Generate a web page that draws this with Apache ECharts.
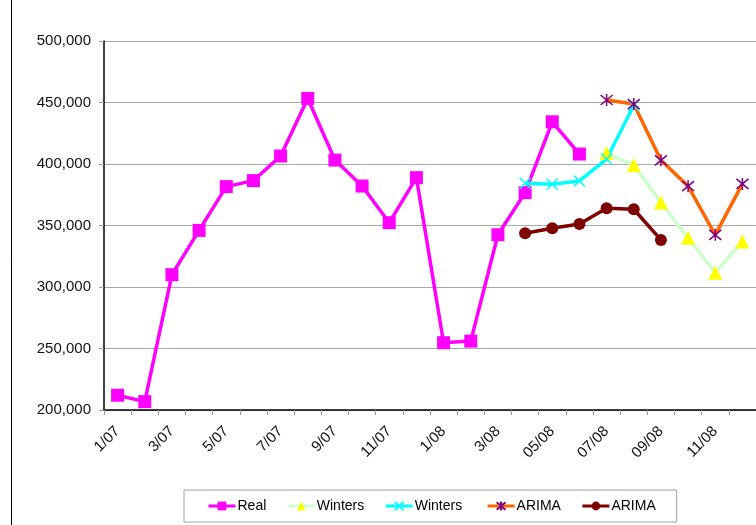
<!DOCTYPE html>
<html>
<head>
<meta charset="utf-8">
<script src="https://cdn.jsdelivr.net/npm/echarts@6/dist/echarts.min.js"></script>
<style>
html,body{margin:0;padding:0;background:#fff;}
#chart{width:756px;height:525px;}
</style>
</head>
<body>
<div id="chart"></div>
<script>
var categories = ['1/07','2/07','3/07','4/07','5/07','6/07','7/07','8/07','9/07','10/07','11/07','12/07',
                  '1/08','2/08','3/08','04/08','05/08','06/08','07/08','08/08','09/08','10/08','11/08','12/08'];
var realValues = [212000,206800,310000,346000,381600,386500,406500,453300,403200,382100,352300,388900,
                  254700,256000,342500,376700,434300,408100,null,null,null,null,null,null];
var wintersA = [null,null,null,null,null,null,null,null,null,null,null,null,
                null,null,null,null,null,null,408900,399200,368600,340000,311600,337000];
var wintersB = [null,null,null,null,null,null,null,null,null,null,null,null,
                null,null,null,384300,383500,386200,404000,447600,null,null,null,null];
var arimaA = [null,null,null,null,null,null,null,null,null,null,null,null,
              null,null,null,null,null,null,452000,448700,403000,382000,342400,383800];
var arimaB = [null,null,null,null,null,null,null,null,null,null,null,null,
              null,null,null,343700,347800,351300,364000,363200,338300,null,null,null];
var seriesNames = ['Real','Winters','Winters','ARIMA','ARIMA'];
var yTicks = {min:200000, max:500000, interval:50000};

var font = 'Liberation Sans, Arial, sans-serif';
var xPath = 'path://M0,0L10,10M10,0L0,10';
var starPath = 'path://M0,0L10,10M10,0L0,10M5,-1L5,11';

var chart = echarts.init(document.getElementById('chart'), null, {renderer:'canvas'});
chart.setOption({
  animation:false,
  backgroundColor:'#ffffff',
  grid:{left:104, top:41, width:653, height:369, containLabel:false},
  graphic:[{type:'line', shape:{x1:11.5,y1:0,x2:11.5,y2:525}, style:{stroke:'#000',lineWidth:1}, z:-1}],
  legend:{
    left:184, top:490, orient:'horizontal',
    padding:[9,17,9,23], itemGap:20, itemWidth:27, itemHeight:11,
    borderColor:'#a0a0a0', borderWidth:1,
    lineStyle:{width:3},
    textStyle:{fontFamily:font, fontSize:14, color:'#000', padding:[0,0,0,-3]},
    data:[{name:'Real'},{name:'Winters'},{name:'Winters '},{name:'ARIMA'},{name:'ARIMA '}]
  },
  xAxis:{
    type:'category', data:categories, boundaryGap:true,
    axisLine:{lineStyle:{color:'#000',width:1.5}},
    axisTick:{show:true, interval:0, length:5, lineStyle:{color:'#999'}},
    axisLabel:{interval:1, rotate:45, margin:19, fontFamily:font, fontSize:15, color:'#111'},
    splitLine:{show:false}
  },
  yAxis:{
    type:'value', min:yTicks.min, max:yTicks.max, interval:yTicks.interval,
    axisLine:{show:true, lineStyle:{color:'#000',width:1.5}},
    axisTick:{show:true, length:5, lineStyle:{color:'#999'}},
    axisLabel:{margin:13, fontFamily:font, fontSize:15, color:'#111',
      formatter:function(v){return v.toString().replace(/\B(?=(\d{3})+(?!\d))/g, ',');}},
    splitLine:{show:true, lineStyle:{color:'#a8a8a8',width:1}}
  },
  series:[
    {name:seriesNames[0], type:'line', data:realValues, symbol:'rect', symbolSize:13,
     lineStyle:{color:'#ff00ff',width:3.5}, itemStyle:{color:'#ff00ff'}},
    {name:seriesNames[1], type:'line', data:wintersA, symbol:'triangle', symbolSize:14,
     lineStyle:{color:'#ccffcc',width:3.5}, itemStyle:{color:'#ffff00'}},
    {name:seriesNames[2]+' ', type:'line', data:wintersB, symbol:xPath, symbolSize:11,
     lineStyle:{color:'#00ffff',width:3.5}, itemStyle:{color:'#00ffff', borderColor:'#00ffff', borderWidth:1.5}},
    {name:seriesNames[3], type:'line', data:arimaA, symbol:starPath, symbolSize:12,
     lineStyle:{color:'#ff6600',width:3.5}, itemStyle:{color:'#800080', borderColor:'#800080', borderWidth:1.5}},
    {name:seriesNames[4]+' ', type:'line', data:arimaB, symbol:'circle', symbolSize:12,
     lineStyle:{color:'#800000',width:3.5}, itemStyle:{color:'#800000'}}
  ]
});
</script>
</body>
</html>
